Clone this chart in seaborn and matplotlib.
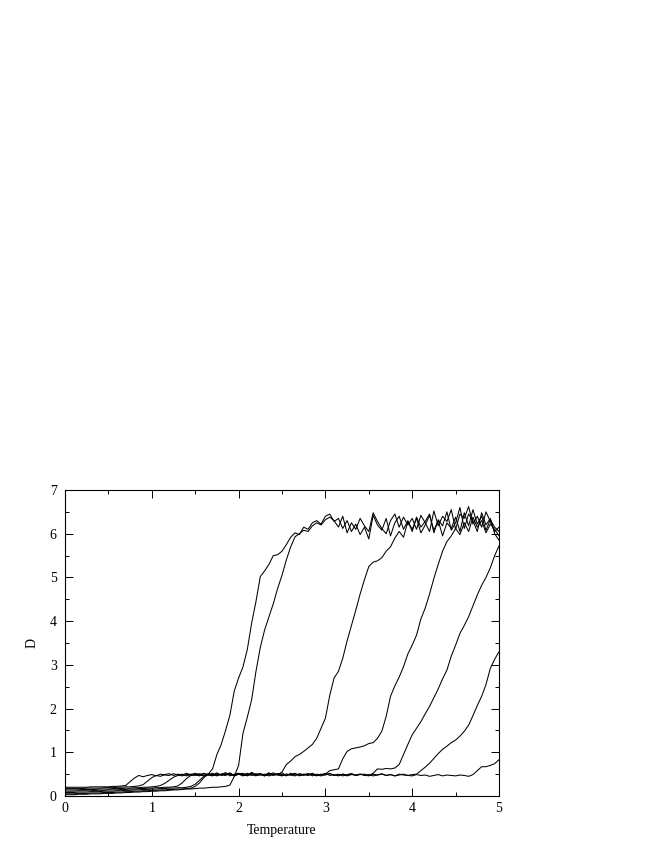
import numpy as np
import pandas as pd
import matplotlib
matplotlib.use("Agg")
import matplotlib.pyplot as plt
from matplotlib.ticker import MultipleLocator
import seaborn as sns

# Temperature sample grid (0 .. 5 in steps of 0.05)
temperature = np.round(np.arange(0, 101) * 0.05, 2)

curve_a = [0.05,0.05,0.05,0.06,0.06,0.06,0.07,0.07,0.07,0.08,
           0.08,0.08,0.09,0.09,0.10,0.10,0.11,0.11,0.12,0.12,
           0.13,0.13,0.14,0.14,0.15,0.15,0.16,0.16,0.17,0.18,
           0.22,0.30,0.42,0.50,0.62,0.95,1.18,1.50,1.85,2.40,
           2.70,2.95,3.35,3.95,4.45,5.02,5.15,5.30,5.50,5.52,
           5.60,5.75,5.92,6.02,5.98,6.15,6.10,6.25,6.30,6.22,
           6.40,6.45,6.28,6.35,6.12,6.30,6.05,6.22,5.98,6.15,
           5.88,6.42,6.20,6.08,6.35,5.95,6.25,6.40,6.10,6.30,
           6.05,6.38,6.15,6.28,6.45,6.02,6.32,6.18,6.50,6.08,
           6.25,6.60,6.12,6.45,6.30,6.05,6.48,6.20,6.35,6.00,
           5.85]

curve_b = [0.03,0.03,0.03,0.04,0.04,0.04,0.05,0.05,0.05,0.06,
           0.06,0.06,0.07,0.07,0.08,0.08,0.09,0.09,0.10,0.10,
           0.11,0.11,0.12,0.12,0.13,0.14,0.14,0.15,0.16,0.16,
           0.17,0.18,0.18,0.19,0.20,0.20,0.21,0.22,0.25,0.45,
           0.70,1.43,1.80,2.20,2.85,3.40,3.80,4.10,4.40,4.75,
           5.05,5.40,5.70,5.93,6.00,6.08,6.05,6.18,6.25,6.20,
           6.32,6.38,6.30,6.15,6.40,6.02,6.25,6.10,6.35,6.18,
           6.05,6.48,6.28,6.12,6.00,6.30,6.45,6.15,6.38,6.20,
           6.35,6.10,6.42,6.25,6.05,6.52,6.18,6.40,6.28,6.55,
           6.10,6.45,6.35,6.62,6.22,6.40,6.15,6.50,6.28,6.05,
           6.15]

curve_c = [0.08,0.08,0.08,0.09,0.09,0.09,0.10,0.10,0.10,0.11,
           0.11,0.11,0.12,0.12,0.13,0.13,0.14,0.14,0.15,0.15,
           0.16,0.16,0.17,0.17,0.18,0.18,0.19,0.19,0.20,0.22,
           0.27,0.36,0.45,0.49,0.47,0.51,0.48,0.53,0.46,0.50,
           0.52,0.48,0.47,0.54,0.49,0.51,0.46,0.52,0.50,0.48,
           0.55,0.72,0.80,0.90,0.95,1.02,1.10,1.18,1.32,1.55,
           1.78,2.30,2.70,2.85,3.15,3.55,3.90,4.25,4.62,4.95,
           5.25,5.35,5.38,5.45,5.60,5.70,5.90,6.05,5.92,6.28,
           6.10,6.35,6.02,6.20,6.42,6.08,6.30,5.95,6.25,6.12,
           6.38,6.05,6.48,6.18,6.55,6.22,6.40,6.08,6.32,6.15,
           6.05]

curve_d = [0.11,0.11,0.11,0.12,0.12,0.12,0.12,0.13,0.13,0.13,
           0.14,0.14,0.14,0.15,0.15,0.16,0.16,0.17,0.17,0.18,
           0.18,0.19,0.19,0.20,0.20,0.21,0.23,0.30,0.40,0.47,
           0.49,0.46,0.51,0.48,0.52,0.47,0.50,0.49,0.53,0.46,
           0.50,0.48,0.52,0.47,0.51,0.49,0.46,0.52,0.48,0.50,
           0.53,0.47,0.49,0.51,0.46,0.50,0.48,0.52,0.47,0.49,
           0.50,0.58,0.60,0.62,0.85,1.02,1.08,1.10,1.12,1.15,
           1.20,1.22,1.32,1.48,1.82,2.28,2.52,2.72,2.96,3.25,
           3.45,3.68,4.05,4.30,4.62,4.98,5.30,5.60,5.82,5.95,
           6.12,5.98,6.25,6.05,6.38,6.15,6.30,6.02,6.22,6.10,
           5.95]

curve_e = [0.14,0.14,0.14,0.14,0.15,0.15,0.15,0.15,0.16,0.16,
           0.16,0.17,0.17,0.17,0.18,0.18,0.19,0.19,0.20,0.20,
           0.21,0.22,0.24,0.29,0.36,0.43,0.47,0.50,0.46,0.49,
           0.52,0.48,0.47,0.51,0.49,0.46,0.50,0.53,0.48,0.47,
           0.51,0.49,0.46,0.52,0.48,0.50,0.47,0.49,0.53,0.48,
           0.46,0.50,0.48,0.52,0.47,0.49,0.51,0.46,0.50,0.48,
           0.52,0.47,0.49,0.46,0.50,0.48,0.51,0.47,0.49,0.50,
           0.47,0.52,0.62,0.61,0.63,0.62,0.64,0.72,0.95,1.18,
           1.40,1.55,1.70,1.88,2.05,2.25,2.45,2.68,2.88,3.20,
           3.45,3.72,3.90,4.10,4.35,4.60,4.82,5.00,5.22,5.50,
           5.72]

curve_f = [0.17,0.17,0.17,0.17,0.17,0.18,0.18,0.18,0.18,0.19,
           0.19,0.19,0.20,0.20,0.21,0.21,0.22,0.23,0.26,0.34,
           0.42,0.47,0.45,0.49,0.51,0.47,0.50,0.48,0.52,0.47,
           0.49,0.51,0.46,0.50,0.48,0.53,0.47,0.49,0.51,0.46,
           0.50,0.52,0.47,0.49,0.46,0.51,0.48,0.53,0.47,0.50,
           0.49,0.46,0.52,0.48,0.50,0.47,0.51,0.49,0.46,0.50,
           0.48,0.52,0.47,0.50,0.46,0.49,0.51,0.47,0.50,0.48,
           0.46,0.50,0.48,0.51,0.47,0.49,0.46,0.50,0.48,0.47,
           0.49,0.50,0.58,0.66,0.75,0.86,0.97,1.07,1.14,1.22,
           1.28,1.37,1.48,1.62,1.84,2.07,2.28,2.55,2.92,3.13,
           3.30]

curve_g = [0.20,0.20,0.20,0.20,0.20,0.20,0.21,0.21,0.21,0.21,
           0.21,0.22,0.22,0.23,0.24,0.33,0.41,0.47,0.44,0.47,
           0.49,0.46,0.50,0.48,0.47,0.51,0.48,0.46,0.49,0.50,
           0.47,0.49,0.52,0.48,0.46,0.50,0.49,0.47,0.51,0.48,
           0.50,0.46,0.49,0.52,0.47,0.48,0.50,0.46,0.49,0.51,
           0.47,0.50,0.48,0.46,0.51,0.49,0.47,0.50,0.48,0.46,
           0.49,0.51,0.47,0.48,0.50,0.46,0.49,0.48,0.50,0.47,
           0.49,0.46,0.48,0.50,0.47,0.49,0.46,0.48,0.50,0.47,
           0.46,0.49,0.47,0.48,0.45,0.47,0.49,0.46,0.48,0.47,
           0.46,0.48,0.47,0.45,0.49,0.58,0.67,0.67,0.70,0.74,
           0.83]

curve_names = ["A", "B", "C", "D", "E", "F", "G"]
curves = [curve_a, curve_b, curve_c, curve_d, curve_e, curve_f, curve_g]

x_ticks = [0, 1, 2, 3, 4, 5]
y_ticks = [0, 1, 2, 3, 4, 5, 6, 7]

frames = []
for name, vals in zip(curve_names, curves):
    frames.append(pd.DataFrame({"Temperature": temperature, "D": vals, "curve": name}))
df = pd.concat(frames, ignore_index=True)

sns.set_theme(style="ticks")
plt.rcParams["font.family"] = ["Liberation Serif", "DejaVu Serif"]

fig = plt.figure(figsize=(6.64, 8.60), dpi=100)
ax = fig.add_axes([65/664, 1 - 796/860, 434/664, 306/860])

sns.lineplot(data=df, x="Temperature", y="D", hue="curve",
             palette=["black"] * len(curve_names), estimator=None,
             legend=False, linewidth=0.75, ax=ax)

ax.set_xlim(0, 5)
ax.set_ylim(0, 7)
ax.set_xticks(x_ticks)
ax.set_yticks(y_ticks)
ax.xaxis.set_minor_locator(MultipleLocator(0.5))
ax.yaxis.set_minor_locator(MultipleLocator(0.5))
ax.tick_params(which="both", direction="in", top=True, right=True,
               color="black", width=0.7, labelsize=10, labelcolor="black")
ax.tick_params(which="major", length=6)
ax.tick_params(which="minor", length=3)
ax.tick_params(axis="x", pad=4)
ax.tick_params(axis="y", pad=6)
for s in ax.spines.values():
    s.set_visible(True)
    s.set_color("black")
    s.set_linewidth(0.8)

ax.set_xlabel("Temperature", fontsize=10, color="black", labelpad=7)
ax.set_ylabel("D", fontsize=10, color="black", labelpad=8)

fig.savefig("out.png", dpi=100, facecolor="white")
